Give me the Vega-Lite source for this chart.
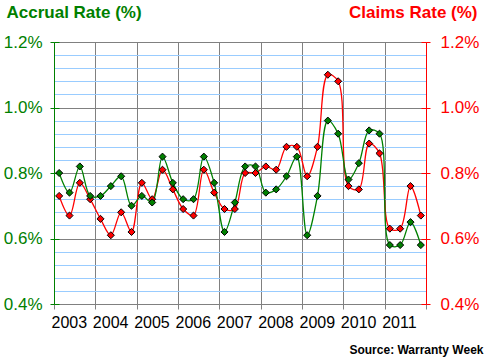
{
  "$schema": "https://vega.github.io/schema/vega-lite/v6.json",
  "width": 372,
  "height": 262,
  "autosize": {"type": "none"},
  "padding": {"left": 54, "top": 42, "right": 59, "bottom": 58},
  "background": "white",
  "config": {"view": {"stroke": null}, "font": "Liberation Sans"},
  "data": {"values": [
    {"t": 2003.125, "accrual": 0.80, "claims": 0.73},
    {"t": 2003.375, "accrual": 0.74, "claims": 0.67},
    {"t": 2003.625, "accrual": 0.82, "claims": 0.77},
    {"t": 2003.875, "accrual": 0.73, "claims": 0.72},
    {"t": 2004.125, "accrual": 0.73, "claims": 0.66},
    {"t": 2004.375, "accrual": 0.76, "claims": 0.61},
    {"t": 2004.625, "accrual": 0.79, "claims": 0.68},
    {"t": 2004.875, "accrual": 0.70, "claims": 0.62},
    {"t": 2005.125, "accrual": 0.73, "claims": 0.77},
    {"t": 2005.375, "accrual": 0.71, "claims": 0.72},
    {"t": 2005.625, "accrual": 0.85, "claims": 0.81},
    {"t": 2005.875, "accrual": 0.77, "claims": 0.75},
    {"t": 2006.125, "accrual": 0.72, "claims": 0.69},
    {"t": 2006.375, "accrual": 0.72, "claims": 0.67},
    {"t": 2006.625, "accrual": 0.85, "claims": 0.81},
    {"t": 2006.875, "accrual": 0.77, "claims": 0.74},
    {"t": 2007.125, "accrual": 0.62, "claims": 0.69},
    {"t": 2007.375, "accrual": 0.71, "claims": 0.69},
    {"t": 2007.625, "accrual": 0.82, "claims": 0.80},
    {"t": 2007.875, "accrual": 0.82, "claims": 0.80},
    {"t": 2008.125, "accrual": 0.74, "claims": 0.82},
    {"t": 2008.375, "accrual": 0.75, "claims": 0.81},
    {"t": 2008.625, "accrual": 0.79, "claims": 0.88},
    {"t": 2008.875, "accrual": 0.85, "claims": 0.88},
    {"t": 2009.125, "accrual": 0.61, "claims": 0.79},
    {"t": 2009.375, "accrual": 0.73, "claims": 0.88},
    {"t": 2009.625, "accrual": 0.96, "claims": 1.10},
    {"t": 2009.875, "accrual": 0.92, "claims": 1.08},
    {"t": 2010.125, "accrual": 0.78, "claims": 0.76},
    {"t": 2010.375, "accrual": 0.83, "claims": 0.75},
    {"t": 2010.625, "accrual": 0.93, "claims": 0.89},
    {"t": 2010.875, "accrual": 0.92, "claims": 0.86},
    {"t": 2011.125, "accrual": 0.58, "claims": 0.63},
    {"t": 2011.375, "accrual": 0.58, "claims": 0.63},
    {"t": 2011.625, "accrual": 0.65, "claims": 0.76},
    {"t": 2011.875, "accrual": 0.58, "claims": 0.67}
  ]},
  "encoding": {
    "x": {
      "field": "t", "type": "quantitative",
      "scale": {"domain": [2003, 2012], "nice": false, "zero": false},
      "axis": {
        "values": [2003, 2004, 2005, 2006, 2007, 2008, 2009, 2010, 2011, 2012],
        "grid": true, "gridColor": "#808080", "gridWidth": 1,
        "domainColor": "#808080", "tickColor": "#808080", "tickSize": 5,
        "labelExpr": "datum.value < 2012 ? format(datum.value, 'd') : ''",
        "labelAlign": "left", "labelOffset": -3, "labelPadding": 5,
        "labelFontSize": 16, "labelColor": "black", "labelFlush": false, "labelOverlap": false,
        "title": "Source: Warranty Week", "titleFontSize": 12, "titleFontWeight": "bold",
        "titleColor": "black", "titleAlign": "right", "titleBaseline": "alphabetic",
        "titleX": 429, "titleY": 49
      }
    }
  },
  "layer": [
    {
      "mark": {"type": "line", "color": "#FF0000", "strokeWidth": 1.3, "interpolate": "catmull-rom"},
      "encoding": {
        "y": {
          "field": "claims", "type": "quantitative",
          "scale": {"domain": [0.4, 1.2], "nice": false, "zero": false},
          "axis": {
            "orient": "right", "values": [0.4, 0.6, 0.8, 1.0, 1.2], "grid": false,
            "domainColor": "#FF0000", "tickColor": "#FF0000", "tickSize": 4,
            "labelExpr": "format(datum.value, '.1f') + '%'",
            "labelColor": "#FF0000", "labelFontSize": 17, "labelPadding": 10,
            "title": "Claims Rate (%)", "titleColor": "#FF0000", "titleFontSize": 17,
            "titleFontWeight": "bold", "titleAngle": 0, "titleAlign": "right",
            "titleBaseline": "alphabetic", "titleX": 51, "titleY": -25
          }
        }
      }
    },
    {
      "mark": {"type": "line", "color": "#008000", "strokeWidth": 1.3, "interpolate": "catmull-rom"},
      "encoding": {
        "y": {
          "field": "accrual", "type": "quantitative",
          "scale": {"domain": [0.4, 1.2], "nice": false, "zero": false},
          "axis": {
            "orient": "left",
            "values": [0.4, 0.44, 0.48, 0.52, 0.56, 0.6, 0.64, 0.68, 0.72, 0.76, 0.8, 0.84, 0.88, 0.92, 0.96, 1.0, 1.04, 1.08, 1.12, 1.16, 1.2],
            "grid": true,
            "gridColor": {"condition": {"test": "abs(datum.value*5 - round(datum.value*5)) < 0.01", "value": "#808080"}, "value": "#99CCFF"},
            "tickOpacity": {"condition": {"test": "abs(datum.value*5 - round(datum.value*5)) < 0.01", "value": 1}, "value": 0},
            "domainColor": "#008000", "tickColor": "#008000", "tickSize": 4,
            "labelExpr": "abs(datum.value*5 - round(datum.value*5)) < 0.01 ? format(datum.value, '.1f') + '%' : ''",
            "labelColor": "#008000", "labelFontSize": 17, "labelPadding": 8,
            "title": "Accrual Rate (%)", "titleColor": "#008000", "titleFontSize": 17,
            "titleFontWeight": "bold", "titleAngle": 0, "titleAlign": "left",
            "titleBaseline": "alphabetic", "titleX": -48, "titleY": -25
          }
        }
      }
    },
    {
      "mark": {"type": "point", "shape": "diamond", "filled": true, "color": "#FF0000", "stroke": "black", "strokeWidth": 1, "size": 50, "opacity": 1},
      "encoding": {
        "y": {
          "field": "claims", "type": "quantitative",
          "scale": {"domain": [0.4, 1.2], "nice": false, "zero": false},
          "axis": {
            "orient": "right", "values": [0.4, 0.6, 0.8, 1.0, 1.2], "grid": false,
            "domain": false, "labels": false, "title": null,
            "tickColor": "#FF0000", "tickSize": -5
          }
        }
      }
    },
    {
      "mark": {"type": "point", "shape": "diamond", "filled": true, "color": "#008000", "stroke": "black", "strokeWidth": 1, "size": 50, "opacity": 1},
      "encoding": {
        "y": {
          "field": "accrual", "type": "quantitative",
          "scale": {"domain": [0.4, 1.2], "nice": false, "zero": false},
          "axis": {
            "orient": "left", "values": [0.4, 0.6, 0.8, 1.0, 1.2], "grid": false,
            "domain": false, "labels": false, "title": null,
            "tickColor": "#008000", "tickSize": -5
          }
        }
      }
    }
  ],
  "resolve": {"scale": {"y": "independent"}}
}
